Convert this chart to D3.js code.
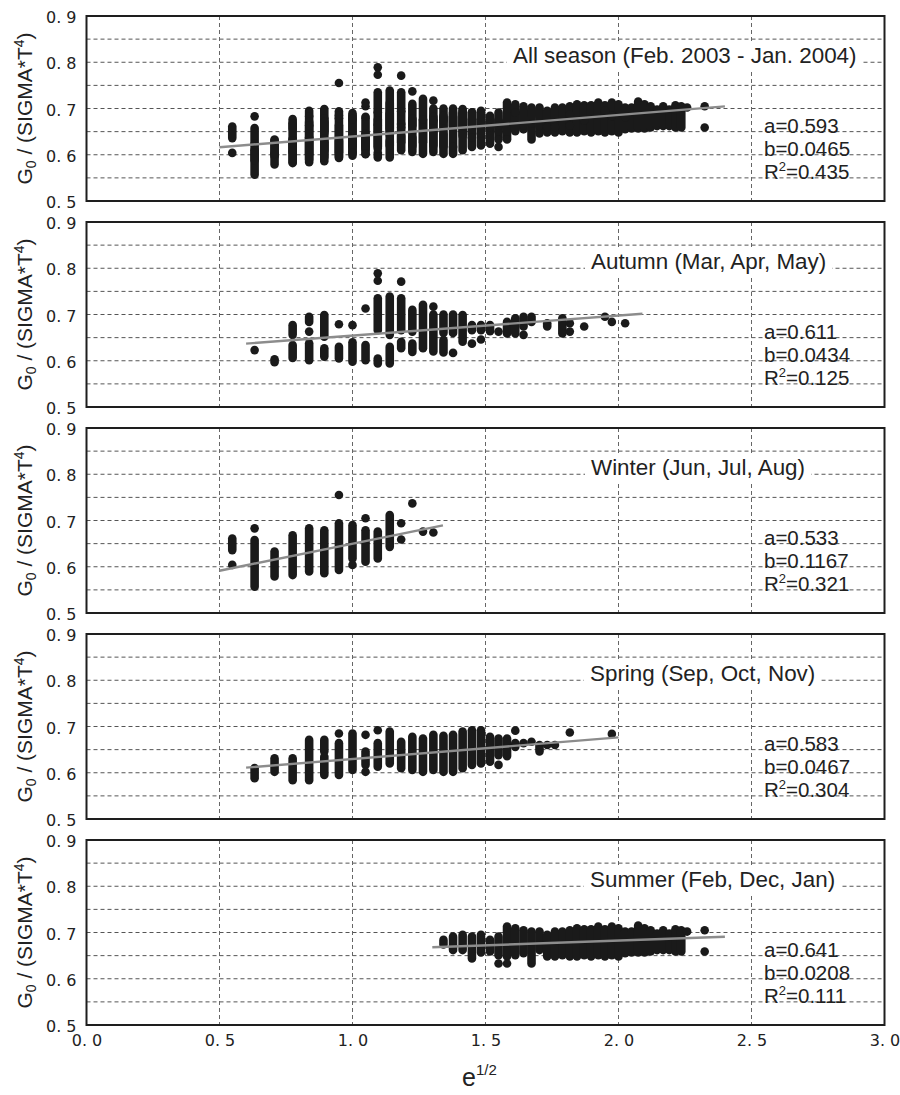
<!DOCTYPE html>
<html>
<head>
<meta charset="utf-8">
<script src="https://cdn.jsdelivr.net/npm/d3@7"></script>
<style>
  body { margin: 0; background: #fff; }
  svg { display: block; }
</style>
</head>
<body>
<svg id="chart" width="900" height="1095"></svg>
<script>
// Each row: [sqrt(e), lowest G0/(sigma T^4), highest G0/(sigma T^4)] of one run of stacked observations.
// A row with equal low and high values is a single observation.
const autumn = [
  [0.632, 0.623, 0.623],
  [0.707, 0.597, 0.603],
  [0.775, 0.656, 0.677], [0.775, 0.606, 0.634],
  [0.837, 0.684, 0.695], [0.837, 0.663, 0.663], [0.837, 0.601, 0.638],
  [0.894, 0.652, 0.699], [0.894, 0.609, 0.627],
  [0.949, 0.679, 0.679], [0.949, 0.605, 0.630],
  [1.000, 0.677, 0.677], [1.000, 0.598, 0.640],
  [1.049, 0.713, 0.713], [1.049, 0.601, 0.634],
  [1.095, 0.789, 0.789], [1.095, 0.773, 0.773], [1.095, 0.666, 0.735], [1.095, 0.594, 0.605],
  [1.140, 0.656, 0.739], [1.140, 0.594, 0.630],
  [1.183, 0.771, 0.771], [1.183, 0.666, 0.735], [1.183, 0.627, 0.641],
  [1.225, 0.663, 0.710], [1.225, 0.619, 0.637],
  [1.265, 0.627, 0.721],
  [1.304, 0.717, 0.717], [1.304, 0.620, 0.700],
  [1.342, 0.660, 0.700], [1.342, 0.618, 0.645],
  [1.378, 0.660, 0.700], [1.378, 0.617, 0.617],
  [1.414, 0.641, 0.699],
  [1.449, 0.666, 0.677], [1.449, 0.637, 0.637],
  [1.483, 0.666, 0.677], [1.483, 0.646, 0.646],
  [1.517, 0.664, 0.677],
  [1.549, 0.663, 0.663],
  [1.581, 0.659, 0.684],
  [1.612, 0.659, 0.692],
  [1.643, 0.674, 0.695], [1.643, 0.656, 0.656],
  [1.673, 0.684, 0.695],
  [1.732, 0.674, 0.681],
  [1.789, 0.659, 0.692],
  [1.817, 0.681, 0.681], [1.817, 0.663, 0.663],
  [1.871, 0.674, 0.674],
  [1.949, 0.695, 0.695],
  [1.975, 0.684, 0.684],
  [2.025, 0.681, 0.681]
];

const winter = [
  [0.548, 0.636, 0.661], [0.548, 0.604, 0.604],
  [0.632, 0.683, 0.683], [0.632, 0.557, 0.658],
  [0.707, 0.579, 0.633],
  [0.775, 0.582, 0.668],
  [0.837, 0.590, 0.683],
  [0.894, 0.586, 0.679],
  [0.949, 0.755, 0.755], [0.949, 0.593, 0.694],
  [1.000, 0.618, 0.690], [1.000, 0.604, 0.604],
  [1.049, 0.705, 0.705], [1.049, 0.611, 0.679],
  [1.095, 0.618, 0.676],
  [1.140, 0.643, 0.712],
  [1.183, 0.694, 0.694], [1.183, 0.659, 0.659],
  [1.225, 0.737, 0.737],
  [1.265, 0.676, 0.676],
  [1.304, 0.674, 0.674]
];

const spring = [
  [0.632, 0.588, 0.610],
  [0.707, 0.602, 0.631],
  [0.775, 0.584, 0.631],
  [0.837, 0.584, 0.671],
  [0.894, 0.646, 0.671], [0.894, 0.595, 0.635],
  [0.949, 0.685, 0.685], [0.949, 0.595, 0.664],
  [1.000, 0.606, 0.685],
  [1.049, 0.682, 0.682], [1.049, 0.617, 0.646], [1.049, 0.602, 0.602],
  [1.095, 0.692, 0.692], [1.095, 0.613, 0.664],
  [1.140, 0.620, 0.689],
  [1.183, 0.610, 0.667],
  [1.225, 0.606, 0.678],
  [1.265, 0.602, 0.674],
  [1.304, 0.606, 0.682],
  [1.342, 0.602, 0.680],
  [1.378, 0.602, 0.682],
  [1.414, 0.610, 0.689],
  [1.449, 0.617, 0.692],
  [1.483, 0.620, 0.692],
  [1.517, 0.624, 0.678],
  [1.549, 0.638, 0.674], [1.549, 0.617, 0.617],
  [1.581, 0.636, 0.674],
  [1.612, 0.691, 0.691], [1.612, 0.656, 0.664],
  [1.643, 0.664, 0.664],
  [1.673, 0.667, 0.667],
  [1.703, 0.646, 0.660],
  [1.732, 0.660, 0.660],
  [1.761, 0.660, 0.660],
  [1.817, 0.687, 0.687],
  [1.975, 0.684, 0.684]
];

const summer = [
  [1.342, 0.674, 0.684],
  [1.378, 0.662, 0.691],
  [1.414, 0.662, 0.695],
  [1.449, 0.644, 0.691],
  [1.483, 0.657, 0.695],
  [1.517, 0.659, 0.684],
  [1.549, 0.651, 0.691], [1.549, 0.633, 0.633],
  [1.581, 0.648, 0.713], [1.581, 0.633, 0.633],
  [1.612, 0.651, 0.709],
  [1.643, 0.655, 0.705],
  [1.673, 0.633, 0.702],
  [1.703, 0.662, 0.702],
  [1.732, 0.648, 0.695],
  [1.761, 0.648, 0.702],
  [1.789, 0.651, 0.702],
  [1.817, 0.648, 0.705],
  [1.844, 0.648, 0.709],
  [1.871, 0.651, 0.707],
  [1.897, 0.648, 0.707],
  [1.924, 0.651, 0.713],
  [1.949, 0.648, 0.707],
  [1.975, 0.651, 0.713],
  [2.000, 0.648, 0.709],
  [2.025, 0.655, 0.702],
  [2.049, 0.657, 0.702],
  [2.074, 0.657, 0.715],
  [2.098, 0.657, 0.709],
  [2.121, 0.659, 0.705],
  [2.145, 0.662, 0.698],
  [2.168, 0.662, 0.705],
  [2.191, 0.662, 0.698],
  [2.214, 0.659, 0.707],
  [2.236, 0.659, 0.705],
  [2.258, 0.702, 0.702],
  [2.324, 0.705, 0.705], [2.324, 0.659, 0.659]
];

// The all-season panel holds every observation of the four seasons.
const allSeason = [].concat(autumn, winter, spring, summer);

const panelData = [allSeason, autumn, winter, spring, summer];
const panelTitles = [
  "All season (Feb. 2003 - Jan. 2004)",
  "Autumn (Mar, Apr, May)",
  "Winter (Jun, Jul, Aug)",
  "Spring (Sep, Oct, Nov)",
  "Summer (Feb, Dec, Jan)"
];
// Regression G0/(sigma T^4) = a + b * e^(1/2)
const coefA = [0.593, 0.611, 0.533, 0.583, 0.641];
const coefB = [0.0465, 0.0434, 0.1167, 0.0467, 0.0208];
const rSquared = ["0.435", "0.125", "0.321", "0.304", "0.111"];
const coefAText = ["0.593", "0.611", "0.533", "0.583", "0.641"];
const coefBText = ["0.0465", "0.0434", "0.1167", "0.0467", "0.0208"];
// e^(1/2) span covered by each fitted line
const fitStart = [0.5, 0.6, 0.5, 0.6, 1.3];
const fitEnd = [2.4, 2.09, 1.34, 2.0, 2.4];

const xTicks = [0, 0.5, 1.0, 1.5, 2.0, 2.5, 3.0];
const yTicks = [0.5, 0.6, 0.7, 0.8, 0.9];
const yGrid = [0.55, 0.6, 0.65, 0.7, 0.75, 0.8, 0.85];
const xGrid = [0.5, 1.0, 1.5, 2.0, 2.5];

// ---- layout ----
const left = 86.5, right = 884.5;
const firstTop = 16, panelStep = 206, panelH = 185;
const titleX = [513, 591, 591, 590, 590];

const svg = d3.select("#chart");
const x = d3.scaleLinear().domain([0, 3]).range([left, right]);
const fmt = d => d3.format(".1f")(d).replace(".", ". ");

const tickFont = "'DejaVu Sans', sans-serif";
const textFont = "'Liberation Sans', Arial, sans-serif";

panelData.forEach((rows, i) => {
  const top = firstTop + i * panelStep;
  const y = d3.scaleLinear().domain([0.5, 0.9]).range([top + panelH, top]);
  const g = svg.append("g");

  // dashed grid
  g.append("g")
    .selectAll("line.h")
    .data(yGrid)
    .join("line")
    .attr("x1", x(0)).attr("x2", x(3))
    .attr("y1", d => y(d)).attr("y2", d => y(d))
    .attr("stroke", "#555").attr("stroke-width", 1)
    .attr("stroke-dasharray", "4,3");
  g.append("g")
    .selectAll("line.v")
    .data(xGrid)
    .join("line")
    .attr("x1", d => x(d)).attr("x2", d => x(d))
    .attr("y1", y(0.9)).attr("y2", y(0.5))
    .attr("stroke", "#666").attr("stroke-width", 1)
    .attr("stroke-dasharray", "4,3");

  // season title on a white band
  const title = g.append("text")
    .attr("x", titleX[i]).attr("y", top + 47)
    .attr("font-family", textFont).attr("font-size", 22.4)
    .attr("fill", "#222")
    .text(panelTitles[i]);
  const bb = title.node().getBBox();
  g.insert("rect", "text")
    .attr("x", bb.x - 6).attr("y", bb.y - 1)
    .attr("width", bb.width + 12).attr("height", bb.height + 2)
    .attr("fill", "#fff");

  // observations: stacked dots drawn as runs
  const dots = g.append("g").attr("fill", "#1a1a1a").attr("stroke", "#1a1a1a");
  dots.selectAll("line")
    .data(rows.filter(r => r[2] > r[1]))
    .join("line")
    .attr("x1", d => x(d[0])).attr("x2", d => x(d[0]))
    .attr("y1", d => y(d[1])).attr("y2", d => y(d[2]))
    .attr("stroke-width", 8.6).attr("stroke-linecap", "round");
  dots.selectAll("circle")
    .data(rows.filter(r => r[2] === r[1]))
    .join("circle")
    .attr("cx", d => x(d[0])).attr("cy", d => y(d[1]))
    .attr("r", 4.3).attr("stroke", "none");

  // fitted line
  g.append("line")
    .attr("x1", x(fitStart[i])).attr("y1", y(coefA[i] + coefB[i] * fitStart[i]))
    .attr("x2", x(fitEnd[i])).attr("y2", y(coefA[i] + coefB[i] * fitEnd[i]))
    .attr("stroke", "#8c8c8c").attr("stroke-width", 2.4);

  // coefficients
  const stats = g.append("g")
    .attr("font-family", textFont).attr("font-size", 20.5).attr("fill", "#222");
  stats.append("text").attr("x", 764).attr("y", top + 117).text("a=" + coefAText[i]);
  stats.append("text").attr("x", 764).attr("y", top + 140).text("b=" + coefBText[i]);
  const r2 = stats.append("text").attr("x", 764).attr("y", top + 163);
  r2.append("tspan").text("R");
  r2.append("tspan").attr("font-size", 13).attr("dy", -8).text("2");
  r2.append("tspan").attr("dy", 8).text("=" + rSquared[i]);

  // y axis labels
  const ya = g.append("g")
    .attr("transform", `translate(${left},0)`)
    .call(d3.axisLeft(y).tickValues(yTicks).tickSize(0).tickPadding(10).tickFormat(fmt));
  ya.select(".domain").remove();
  ya.selectAll("text")
    .attr("font-family", tickFont).attr("font-size", 16).attr("fill", "#222")
    .attr("dy", "0.42em");

  // y axis title
  const yt = g.append("text")
    .attr("transform", `translate(32,${top + panelH / 2}) rotate(-90)`)
    .attr("text-anchor", "middle")
    .attr("font-family", textFont).attr("font-size", 21).attr("fill", "#222");
  yt.append("tspan").text("G");
  yt.append("tspan").attr("font-size", 14).attr("dy", 4).text("0");
  yt.append("tspan").attr("dy", -4).text(" / (SIGMA*T");
  yt.append("tspan").attr("font-size", 14).attr("dy", -8).text("4");
  yt.append("tspan").attr("dy", 8).text(")");

  // x axis labels on the bottom panel
  if (i === panelData.length - 1) {
    const xa = g.append("g")
      .attr("transform", `translate(0,${top + panelH})`)
      .call(d3.axisBottom(x).tickValues(xTicks).tickSize(0).tickPadding(10).tickFormat(fmt));
    xa.select(".domain").remove();
    xa.selectAll("text")
      .attr("font-family", tickFont).attr("font-size", 16).attr("fill", "#222");
  }

  // frame
  g.append("rect")
    .attr("x", left).attr("y", top)
    .attr("width", right - left).attr("height", panelH)
    .attr("fill", "none").attr("stroke", "#1e1e1e").attr("stroke-width", 2);
});

// x axis title
const xt = svg.append("text")
  .attr("x", 462).attr("y", 1086)
  .attr("font-family", textFont).attr("font-size", 25).attr("fill", "#222");
xt.append("tspan").text("e");
xt.append("tspan").attr("font-size", 15).attr("dy", -11).text("1/2");
</script>
</body>
</html>
